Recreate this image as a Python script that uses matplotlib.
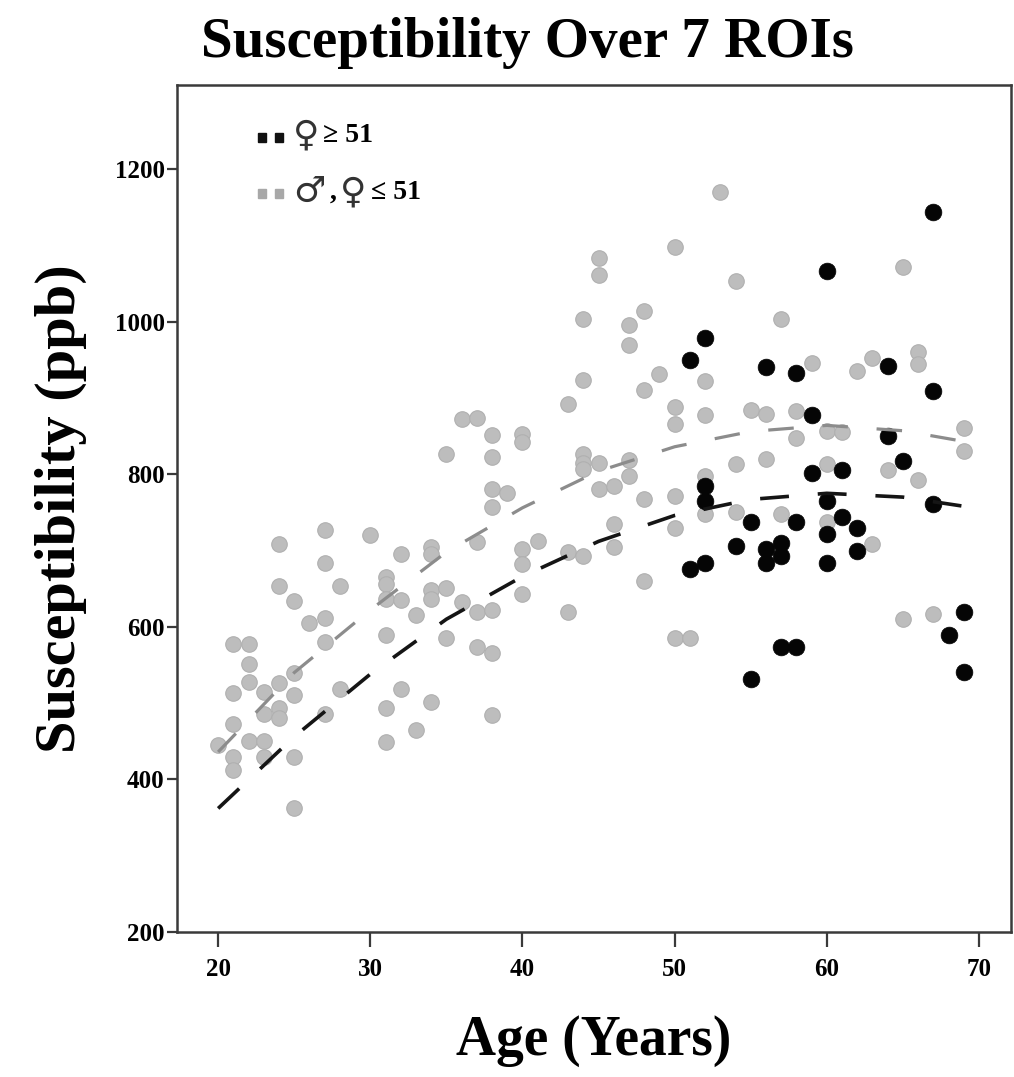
import numpy as np
import matplotlib
matplotlib.use("Agg")
import matplotlib.pyplot as plt
from matplotlib.offsetbox import (AnchoredOffsetbox, DrawingArea, HPacker,
                                  TextArea, VPacker)
from matplotlib.patches import Rectangle

plt.rcParams['font.family'] = ['Liberation Serif', 'DejaVu Serif']
plt.rcParams['font.weight'] = 'bold'

# women aged >= 51
f51_age = [51, 52, 59, 64, 65, 52, 52, 59, 61, 60, 67, 55, 58, 61, 62, 60, 54, 56, 57,
           57, 56, 62, 60, 51, 52, 69, 68, 69, 57, 58, 55, 67, 60, 56, 58, 64, 67]
f51_val = [950, 979, 877, 850, 817, 785, 765, 801, 806, 765, 761, 737, 737, 744, 729, 722, 706, 702, 710,
           693, 683, 699, 683, 676, 683, 620, 589, 541, 573, 573, 531, 1144, 1066, 940, 933, 942, 909]

# men, and women aged <= 51
rest_age = [20,
            21, 21, 21, 21, 21,
            22, 22, 22, 22,
            23, 23, 23, 23,
            24, 24, 24, 24, 24,
            25, 25, 25, 25, 25,
            26,
            27, 27, 27, 27, 27,
            28, 28,
            30,
            31, 31, 31, 31, 31, 31,
            32, 32, 32,
            33, 33,
            34, 34, 34, 34, 34,
            35, 35, 35,
            36, 36,
            37, 37, 37, 37,
            38, 38, 38, 38, 38, 38, 38,
            39,
            40, 40, 40, 40, 40,
            41,
            43, 43, 43,
            44, 44, 44, 44, 44, 44,
            45, 45, 45, 45,
            46, 46, 46,
            47, 47, 47, 47,
            48, 48, 48, 48,
            49,
            50, 50, 50, 50, 50, 50,
            51,
            52, 52, 52, 52,
            53,
            54, 54, 54,
            55,
            56, 56,
            57, 57,
            58, 58,
            59,
            60, 60, 60,
            61,
            62,
            63, 63,
            64,
            65, 65,
            66, 66, 66,
            67,
            69, 69]
rest_val = [445,
            578, 513, 472, 430, 413,
            577, 551, 528, 450,
            514, 486, 450, 430,
            709, 653, 526, 493, 480,
            634, 539, 510, 429, 362,
            605,
            727, 683, 612, 580, 486,
            654, 519,
            721,
            665, 656, 637, 589, 493, 449,
            696, 635, 518,
            615, 465,
            704, 696, 648, 637, 501,
            827, 651, 586,
            872, 632,
            874, 711, 619, 573,
            852, 822, 781, 757, 622, 566, 485,
            776,
            853, 842, 702, 682, 643,
            713,
            892, 698, 619,
            1004, 923, 826, 815, 807, 693,
            1084, 1061, 815, 781,
            785, 735, 704,
            996, 970, 819, 798,
            1014, 910, 768, 660,
            931,
            1098, 888, 866, 771, 730, 586,
            586,
            922, 877, 798, 748,
            1170,
            1053, 813, 750,
            884,
            879, 820,
            1003, 748,
            883, 848,
            946,
            857, 813, 737,
            855,
            935,
            952, 708,
            806,
            1071, 610,
            960, 945, 792,
            617,
            861, 830]

# fitted curves
fit_age = [20, 25, 30, 35, 40, 45, 50, 55, 60, 65, 69]
fit_f51 = [362, 456, 538, 610, 666, 712, 746, 767, 775, 770, 758]
fit_rest = [436, 540, 622, 698, 756, 804, 836, 856, 864, 857, 843]

# legend entries: (colour, symbol pieces, trailing text)
legend_rows = [('#111111', ['\u2640'], '\u2265 51'),
               ('#a8a8a8', ['\u2642', ',', '\u2640'], '\u2264 51')]

fig = plt.figure(figsize=(10.14, 10.77), dpi=100)
ax = fig.add_axes([0.1746, 0.1346, 0.8224, 0.7864])

ax.scatter(rest_age, rest_val, s=125, color='#bdbdbd', edgecolors='#b0b0b0', linewidths=0.8, zorder=2)
ax.scatter(f51_age, f51_val, s=145, color='#050505', edgecolors='#050505', linewidths=0.5, zorder=3)

ax.plot(fit_age, fit_rest, color='#8c8c8c', lw=2.3, dashes=(8, 9), zorder=4)
ax.plot(fit_age, fit_f51, color='#151515', lw=2.6, dashes=(8, 8), zorder=4)

ax.set_xlim(17.3, 72.1)
ax.set_ylim(200, 1310)
ax.set_xticks([20, 30, 40, 50, 60, 70])
ax.set_yticks([200, 400, 600, 800, 1000, 1200])

for sp in ax.spines.values():
    sp.set_color('#3a3a3a')
    sp.set_linewidth(1.8)

ax.tick_params(axis='x', direction='out', length=11, width=1.6, color='#3a3a3a',
               labelsize=18, pad=8)
ax.tick_params(axis='y', direction='out', length=7, width=1.6, color='#3a3a3a',
               labelsize=18, pad=2)
for lab in ax.get_xticklabels() + ax.get_yticklabels():
    lab.set_fontweight('bold')

fig.text(0.52, 0.960, 'Susceptibility Over 7 ROIs', fontsize=41, fontweight='bold',
         ha='center', va='center')
ax.set_xlabel('Age (Years)', fontsize=40, fontweight='bold', labelpad=24)
ax.set_ylabel('Susceptibility (ppb)', fontsize=42, fontweight='bold', labelpad=20)

# legend built from pieces so the gender signs can be larger than the numbers
sym_font = {'size': 26, 'family': ['DejaVu Sans'], 'color': '#333333'}
num_font = {'size': 20, 'weight': 'bold', 'family': ['Liberation Serif', 'DejaVu Serif']}
rows = []
for col, syms, tail in legend_rows:
    da = DrawingArea(22, 14, 0, 0)
    da.add_artist(Rectangle((0, 3), 6, 6, color=col))
    da.add_artist(Rectangle((12, 3), 6, 6, color=col))
    parts = [da]
    for s in syms:
        if s == ',':
            parts.append(TextArea(s, textprops=num_font))
        else:
            parts.append(TextArea(s, textprops=sym_font))
    parts.append(TextArea(tail, textprops=num_font))
    rows.append(HPacker(children=parts, align='center', pad=0, sep=3))
box = VPacker(children=rows, align='left', pad=0, sep=16)
anch = AnchoredOffsetbox(loc='upper left', child=box, frameon=False,
                         bbox_to_anchor=(0.097, 0.96), bbox_transform=ax.transAxes,
                         borderpad=0, pad=0)
ax.add_artist(anch)

fig.savefig('out.png', dpi=100, facecolor='white')
